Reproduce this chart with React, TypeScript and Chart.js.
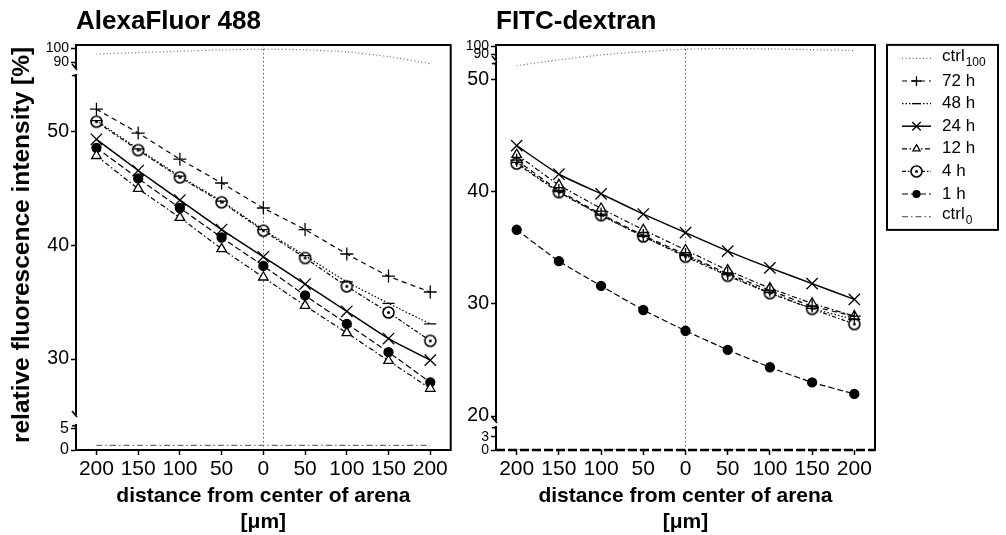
import React, { useEffect, useRef } from 'react';
import { Chart, registerables } from 'chart.js';
import { drawPoint } from 'chart.js/helpers';

Chart.register(...registerables);

// ---------------- data ----------------
const distances = [-200, -150, -100, -50, 0, 50, 100, 150, 200];
const distanceTickLabels = ['200', '150', '100', '50', '0', '50', '100', '150', '200'];
const seriesLabels = ['ctrl100', '72 h', '48 h', '24 h', '12 h', '4 h', '1 h', 'ctrl0'];

// AlexaFluor 488
const afCtrl100 = [95.9, 96.9, 97.9, 98.8, 99.3, 98.9, 97.4, 94.2, 89.2];
const af72h = [52.0, 49.9, 47.6, 45.5, 43.3, 41.4, 39.25, 37.3, 35.9];
const af48h = [51.0, 48.5, 46.1, 43.9, 41.4, 39.1, 36.8, 34.9, 33.1];
const af24h = [49.35, 46.6, 44.0, 41.4, 39.0, 36.6, 34.2, 31.8, 29.9];
const af12h = [47.9, 45.0, 42.45, 39.7, 37.2, 34.7, 32.3, 29.85, 27.4];
const af4h = [50.9, 48.4, 46.0, 43.8, 41.3, 38.9, 36.4, 34.1, 31.6];
const af1h = [48.6, 45.9, 43.3, 40.7, 38.2, 35.6, 33.1, 30.6, 27.95];
const afCtrl0 = [1.1, 1.1, 1.1, 1.1, 1.1, 1.1, 1.1, 1.1, 1.1];

// FITC-dextran
const fdCtrl100 = [75.6, 82.8, 89.0, 93.1, 96.1, 96.9, 96.5, 95.6, 94.4];
const fd72h = [42.8, 40.1, 38.0, 36.1, 34.4, 32.7, 31.2, 29.8, 28.9];
const fd48h = [42.6, 40.0, 37.9, 36.0, 34.3, 32.6, 31.0, 29.6, 28.6];
const fd24h = [44.1, 41.55, 39.8, 38.0, 36.35, 34.7, 33.2, 31.8, 30.4];
const fd12h = [43.3, 40.6, 38.5, 36.6, 34.8, 33.0, 31.4, 30.05, 28.9];
const fd4h = [42.5, 39.95, 37.9, 36.0, 34.2, 32.5, 30.95, 29.55, 28.2];
const fd1h = [36.6, 33.8, 31.6, 29.45, 27.6, 25.9, 24.35, 23.0, 21.97];
const fdCtrl0 = [0, 0, 0, 0, 0, 0, 0, 0, 0];

// tick values of the broken y axes
const leftTopTicks = [90, 100];
const leftMidTicks = [30, 40, 50];
const leftBotTicks = [0, 5];
const rightTopTicks = [90, 100];
const rightMidTicks = [20, 30, 40, 50];
const rightBotTicks = [0, 3];

// ---------------- styles ----------------
Chart.defaults.font.family = "'Liberation Sans', Arial, Helvetica, sans-serif";
Chart.defaults.color = '#000';

function makeDotCircle(r: number) {
  const c = document.createElement('canvas');
  const s = 15;
  c.width = s;
  c.height = s;
  const g = c.getContext('2d')!;
  g.beginPath();
  g.arc(s / 2, s / 2, r, 0, Math.PI * 2);
  g.fillStyle = '#fff';
  g.fill();
  g.lineWidth = 1.6;
  g.strokeStyle = '#000';
  g.stroke();
  g.beginPath();
  g.arc(s / 2, s / 2, 1.5, 0, Math.PI * 2);
  g.fillStyle = '#000';
  g.fill();
  return c;
}

function seriesStyles(dotImg: any) {
  return [
    { color: '#6a6a6a', width: 1.2, dash: [1, 2.5], point: 'circle', radius: 0, fill: '#fff' },
    { color: '#000', width: 1.2, dash: [5, 4], point: 'cross', radius: 6.5, fill: '#fff' },
    { color: '#000', width: 1.2, dash: [1.5, 2], point: 'line', radius: 6, fill: '#fff' },
    { color: '#000', width: 1.5, dash: [], point: 'crossRot', radius: 8, fill: '#fff' },
    { color: '#000', width: 1.2, dash: [5, 2.5, 1.5, 2.5], point: 'triangle', radius: 5.5, fill: '#fff' },
    { color: '#000', width: 1.2, dash: [4, 2, 1.5, 2], point: dotImg, radius: 5.5, fill: '#fff' },
    { color: '#000', width: 1.2, dash: [6, 3], point: 'circle', radius: 4.5, fill: '#000' },
    { color: '#6a6a6a', width: 1.2, dash: [6, 3, 1.5, 3], point: 'circle', radius: 0, fill: '#fff' },
  ];
}

function buildDatasets(values: number[][], axes: string[], styles: any[], clips: any[]) {
  return values.map((vals, i) => {
    const st = styles[i];
    const ds: any = {
      label: seriesLabels[i],
      data: distances.map((x, j) => ({ x, y: vals[j] })),
      yAxisID: axes[i],
      borderColor: st.color,
      borderWidth: st.width,
      borderDash: st.dash,
      pointStyle: st.point,
      pointRadius: st.radius,
      pointHoverRadius: st.radius,
      pointBackgroundColor: st.fill,
      pointBorderColor: '#000',
      pointBorderWidth: 1.3,
      tension: 0.15,
      fill: false,
    };
    if (clips[i]) ds.clip = clips[i];
    return ds;
  });
}

function yStack(
  ranges: number[][],
  ticks: number[][],
  weights: number[],
  width: number,
  fonts: number[],
  title?: string
) {
  const fit = (s: any) => {
    s.width = width;
  };
  const seg = (idx: number, order: number, extra: any = {}) => ({
    type: 'linear',
    position: 'left',
    stack: 'ystack',
    stackWeight: weights[idx * 2],
    weight: order,
    min: ranges[idx][0],
    max: ranges[idx][1],
    afterFit: fit,
    afterBuildTicks: (s: any) => {
      s.ticks = ticks[idx].map((v) => ({ value: v }));
    },
    grid: {
      display: true,
      drawOnChartArea: false,
      drawTicks: true,
      tickLength: 5,
      tickWidth: 1.5,
      tickColor: '#000',
      color: '#000',
    },
    border: { display: true, color: '#000', width: 2 },
    ticks: { autoSkip: false, padding: 2, font: { size: fonts[idx] }, color: '#000' },
    ...extra,
  });
  const gap = (w: number, order: number) => ({
    type: 'linear',
    position: 'left',
    stack: 'ystack',
    stackWeight: w,
    weight: order,
    min: 0,
    max: 1,
    afterFit: fit,
    grid: { display: false },
    border: { display: false },
    ticks: { display: false },
  });
  const midExtra: any = title
    ? {
        title: {
          display: true,
          text: title,
          font: { size: 24.5, weight: 'bold' },
          color: '#000',
          padding: { top: 8, bottom: 0 },
        },
      }
    : {};
  return {
    yTop: seg(0, 5),
    gap1: gap(weights[1], 4),
    yMid: seg(1, 3, midExtra),
    gap2: gap(weights[3], 2),
    yBot: seg(2, 1),
  };
}

function xScale(showBorder: boolean) {
  return {
    type: 'linear',
    position: 'bottom',
    min: -224.5,
    max: 224.5,
    afterFit: (s: any) => {
      s.height = 85;
    },
    afterBuildTicks: (s: any) => {
      s.ticks = distances.map((v) => ({ value: v }));
    },
    grid: {
      display: true,
      drawOnChartArea: true,
      drawTicks: true,
      tickLength: 5,
      tickWidth: 1.5,
      tickColor: '#000',
      lineWidth: 1,
      color: (c: any) => (c.tick && c.tick.value === 0 ? '#555' : 'rgba(0,0,0,0)'),
    },
    border: { display: showBorder, color: '#000', width: 2, dash: [1.5, 2.5] },
    ticks: {
      autoSkip: false,
      maxRotation: 0,
      padding: 2,
      font: { size: 21 },
      color: '#000',
      callback: (_v: any, i: number) => distanceTickLabels[i],
    },
    title: {
      display: true,
      text: ['distance from center of arena', '[μm]'],
      font: { size: 21, weight: 'bold', lineHeight: 1.27 },
      color: '#000',
      padding: { top: 0, bottom: -1 },
    },
  };
}

const framePlugin = {
  id: 'frame',
  afterDraw(chart: any, _args: any, opts: any) {
    const { ctx, chartArea: a } = chart;
    ctx.save();
    ctx.strokeStyle = '#000';
    ctx.lineWidth = 2;
    ctx.setLineDash([]);
    ctx.beginPath();
    ctx.moveTo(a.left - 1, a.top);
    ctx.lineTo(a.right, a.top);
    ctx.lineTo(a.right, a.bottom + 1);
    ctx.stroke();
    if (opts && opts.dashedBase) {
      ctx.lineWidth = 2.5;
      ctx.setLineDash([9, 3]);
      ctx.beginPath();
      ctx.moveTo(a.left, a.bottom);
      ctx.lineTo(a.right, a.bottom);
      ctx.stroke();
      ctx.setLineDash([]);
    }
    // axis break marks
    const s = chart.scales;
    const x = s.yMid.right;
    ctx.lineWidth = 1.6;
    const lowEnd = (y: number) => {
      ctx.beginPath();
      ctx.moveTo(x - 4, y - 4);
      ctx.lineTo(x + 1, y + 2);
      ctx.stroke();
    };
    const highEnd = (y: number) => {
      ctx.beginPath();
      ctx.moveTo(x - 4, y + 1);
      ctx.quadraticCurveTo(x, y - 1, x, y + 5);
      ctx.stroke();
    };
    lowEnd(s.yTop.bottom);
    highEnd(s.yMid.top);
    lowEnd(s.yMid.bottom);
    highEnd(s.yBot.top);
    ctx.restore();
  },
};

const boxLegendPlugin = {
  id: 'boxLegend',
  afterDraw(chart: any, _args: any, opts: any) {
    if (!opts || !opts.show) return;
    const { ctx, chartArea } = chart;
    const bx = chartArea.right + 12;
    const by = chartArea.top;
    const bw = 111;
    const bh = 185;
    ctx.save();
    ctx.lineWidth = 2;
    ctx.strokeStyle = '#000';
    ctx.setLineDash([]);
    ctx.strokeRect(bx, by, bw, bh);
    chart.data.datasets.forEach((ds: any, i: number) => {
      const y = by + 13.5 + i * 22.6;
      const x0 = bx + 15;
      const x1 = bx + 44;
      ctx.save();
      ctx.strokeStyle = ds.borderColor;
      ctx.lineWidth = ds.borderWidth;
      ctx.setLineDash(ds.borderDash || []);
      ctx.beginPath();
      ctx.moveTo(x0, y);
      ctx.lineTo(x1, y);
      ctx.stroke();
      ctx.restore();
      if (ds.pointRadius > 0) {
        ctx.save();
        ctx.setLineDash([]);
        ctx.fillStyle = ds.pointBackgroundColor;
        ctx.strokeStyle = ds.pointBorderColor;
        ctx.lineWidth = ds.pointBorderWidth;
        drawPoint(
          ctx,
          {
            pointStyle: ds.pointStyle,
            radius: ds.pointRadius * 0.75,
            rotation: 0,
            borderWidth: ds.pointBorderWidth,
          } as any,
          (x0 + x1) / 2,
          y
        );
        ctx.restore();
      }
      const tx = bx + 55;
      ctx.fillStyle = '#000';
      ctx.textBaseline = 'middle';
      ctx.textAlign = 'left';
      const m = /^(ctrl)(\d+)$/.exec(ds.label);
      ctx.font = "17px 'Liberation Sans', Arial, sans-serif";
      if (m) {
        const ty = y - 2;
        ctx.fillText(m[1], tx, ty);
        const w = ctx.measureText(m[1]).width;
        ctx.font = "12px 'Liberation Sans', Arial, sans-serif";
        ctx.fillText(m[2], tx + w + 1, ty + 6);
      } else {
        ctx.fillText(ds.label, tx, y);
      }
    });
    ctx.restore();
  },
};

export default function App() {
  const leftRef = useRef<HTMLCanvasElement>(null);
  const rightRef = useRef<HTMLCanvasElement>(null);

  useEffect(() => {
    const dotImg = makeDotCircle(5.5);
    const styles = seriesStyles(dotImg);
    const axes = ['yTop', 'yMid', 'yMid', 'yMid', 'yMid', 'yMid', 'yMid', 'yBot'];

    const leftData = buildDatasets(
      [afCtrl100, af72h, af48h, af24h, af12h, af4h, af1h, afCtrl0],
      axes,
      styles,
      []
    );
    const rightData = buildDatasets(
      [fdCtrl100, fd72h, fd48h, fd24h, fd12h, fd4h, fd1h, fdCtrl0],
      axes,
      styles,
      [{ left: 0, top: 2, right: 0, bottom: 10 }]
    );

    const common = (title: string, padRight: number) => ({
      responsive: false,
      animation: false,
      layout: { padding: { left: 0, right: padRight, top: 0, bottom: 0 } },
      plugins: {
        legend: { display: false },
        tooltip: { enabled: false },
        title: {
          display: true,
          text: title,
          align: 'start',
          fullSize: false,
          font: { size: 26, weight: 'bold', lineHeight: 1.15 },
          color: '#000',
          padding: { top: 7, bottom: 8 },
        },
      },
    });

    const left = new Chart(leftRef.current!, {
      type: 'line',
      data: { datasets: leftData },
      options: {
        ...common('AlexaFluor 488', 6),
        plugins: {
          ...common('AlexaFluor 488', 6).plugins,
          frame: { dashedBase: false },
          boxLegend: { show: false },
        },
        scales: {
          x: xScale(true),
          ...yStack(
            [
              [86.3, 102.3],
              [25.07, 55.02],
              [0, 5.95],
            ],
            [leftTopTicks, leftMidTicks, leftBotTicks],
            [23, 7, 340, 10, 25],
            76,
            [14, 19.5, 16],
            'relative fluorescence intensity [%]'
          ),
        },
      } as any,
      plugins: [framePlugin, boxLegendPlugin],
    } as any);

    const right = new Chart(rightRef.current!, {
      type: 'line',
      data: { datasets: rightData },
      options: {
        ...common('FITC-dextran', 131),
        plugins: {
          ...common('FITC-dextran', 131).plugins,
          frame: { dashedBase: true },
          boxLegend: { show: true },
        },
        scales: {
          x: xScale(false),
          ...yStack(
            [
              [82.75, 101.5],
              [19.56, 51.47],
              [0, 5.3],
            ],
            [rightTopTicks, rightMidTicks, rightBotTicks],
            [15, 3, 358, 6, 23],
            36,
            [14, 19.5, 14]
          ),
        },
      } as any,
      plugins: [framePlugin, boxLegendPlugin],
    } as any);

    return () => {
      left.destroy();
      right.destroy();
    };
  }, []);

  return (
    <div
      style={{
        position: 'absolute',
        left: 0,
        top: 0,
        width: 1006,
        height: 535,
        background: '#fff',
        overflow: 'hidden',
      }}
    >
      <div style={{ position: 'absolute', left: 0, top: 0, width: 460, height: 535 }}>
        <canvas ref={leftRef} width={460} height={535} style={{ width: 460, height: 535, display: 'block' }} />
      </div>
      <div style={{ position: 'absolute', left: 460, top: 0, width: 546, height: 535 }}>
        <canvas ref={rightRef} width={546} height={535} style={{ width: 546, height: 535, display: 'block' }} />
      </div>
    </div>
  );
}
